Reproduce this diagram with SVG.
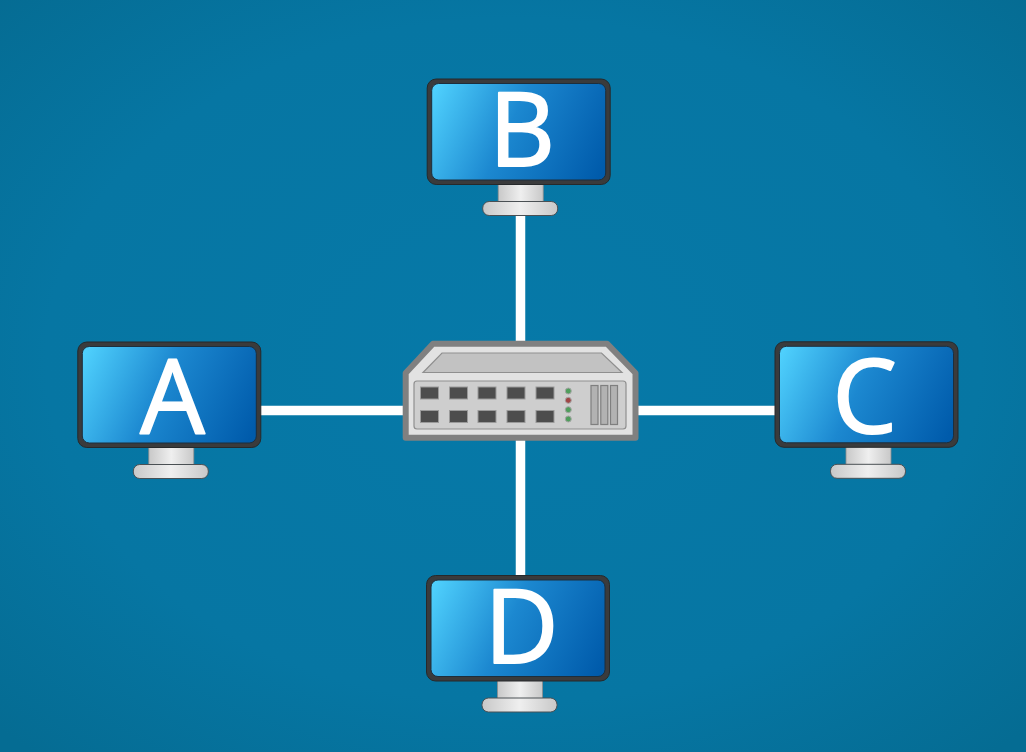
<svg xmlns="http://www.w3.org/2000/svg" width="1026" height="752" viewBox="0 0 1026 752">
<style>
.lbl{font-family:"Open Sans","Noto Sans","Liberation Sans",sans-serif;font-size:102px;fill:#fff;stroke:#fff;stroke-width:2px;stroke-linejoin:round;text-anchor:middle}
.link{stroke:#fff;stroke-width:9.500px;fill:none}
.port{fill:#4d4d4d;stroke:#9a9a9a;stroke-width:1px}
.led{stroke:#a5a5a5;stroke-width:1px}
.slot{fill:#b2b2b2;stroke:#7f7f7f;stroke-width:1.200px}
</style>
<defs>
<radialGradient id="bg" cx="50%" cy="48%" r="70%">
<stop offset="0" stop-color="#0679a8"/><stop offset="0.65" stop-color="#0676a3"/><stop offset="1" stop-color="#056c93"/>
</radialGradient>
<linearGradient id="scr" gradientUnits="userSpaceOnUse" x1="8" y1="12" x2="176" y2="90">
<stop offset="0" stop-color="#4ecffc"/><stop offset="0.45" stop-color="#1c88d0"/><stop offset="1" stop-color="#005bab"/>
</linearGradient>
<linearGradient id="st" x1="0" y1="0" x2="1" y2="0">
<stop offset="0" stop-color="#c8c8c8"/><stop offset="0.5" stop-color="#efefef"/><stop offset="1" stop-color="#c8c8c8"/>
</linearGradient>
<filter id="soft" x="-5%" y="-5%" width="110%" height="110%"><feGaussianBlur stdDeviation="0.6"/></filter>
<g id="mon">
<rect x="71.500" y="105" width="45" height="19" fill="url(#st)" stroke="#8e8e8e" stroke-width="0.800"/>
<rect x="56" y="123" width="75" height="14" rx="6.500" fill="url(#st)" stroke="#4a5054" stroke-width="1"/>
<rect x="0.500" y="0.500" width="183" height="105.500" rx="9" fill="#3a3b3c" stroke="#26292b" stroke-width="1"/>
<rect x="5" y="5" width="174" height="96.500" rx="7" fill="url(#scr)" stroke="#1d2e3c" stroke-width="1"/>
</g>
</defs>
<rect id="background" width="1026" height="752" fill="url(#bg)"/>
<g id="connectors">
<line class="link" x1="520.500" y1="215" x2="520.500" y2="345"/>
<line class="link" x1="520.500" y1="438" x2="520.500" y2="577"/>
<line class="link" x1="260" y1="410.500" x2="405" y2="410.500"/>
<line class="link" x1="636" y1="410.500" x2="776" y2="410.500"/>
</g>
<g id="node-a"><use href="#mon" x="77.300" y="341.500"/><text class="lbl" x="172.500" y="433">A</text></g>
<g id="node-b"><use href="#mon" x="426.700" y="78.500"/><text class="lbl" x="522" y="166">B</text></g>
<g id="node-c"><use href="#mon" x="774.500" y="341.300"/><text class="lbl" x="864.500" y="433">C</text></g>
<g id="node-d"><use href="#mon" x="426" y="575"/><text class="lbl" x="521.500" y="663">D</text></g>
<g id="switch" filter="url(#soft)">
<path d="M405.700 373 L433 343.700 H607 L635.500 373 V437.700 H405.700 Z" fill="#e2e2e2" stroke="#808080" stroke-width="6" stroke-linejoin="round"/>
<path d="M423 372.500 L442 353 H601.500 L622 372.500 Z" fill="#c2c2c2" stroke="#8f8f8f" stroke-width="1.200"/>
<rect x="414" y="381" width="212" height="48" rx="3" fill="#cecece" stroke="#8f8f8f" stroke-width="1.200"/>
<g id="ports">
<rect class="port" x="420.500" y="387" width="18" height="12"/><rect class="port" x="449.500" y="387" width="18" height="12"/><rect class="port" x="478" y="387" width="18" height="12"/><rect class="port" x="507" y="387" width="18" height="12"/><rect class="port" x="536" y="387" width="18" height="12"/>
<rect class="port" x="420.500" y="410.500" width="18" height="12"/><rect class="port" x="449.500" y="410.500" width="18" height="12"/><rect class="port" x="478" y="410.500" width="18" height="12"/><rect class="port" x="507" y="410.500" width="18" height="12"/><rect class="port" x="536" y="410.500" width="18" height="12"/>
</g>
<circle class="led" cx="568.300" cy="391" r="3" fill="#4f9e5c"/>
<circle class="led" cx="568.300" cy="400.300" r="3" fill="#a04444"/>
<circle class="led" cx="568.300" cy="409.700" r="3" fill="#4f9e5c"/>
<circle class="led" cx="568.300" cy="419" r="3" fill="#4f9e5c"/>
<rect class="slot" x="591" y="385.500" width="7" height="39"/>
<rect class="slot" x="600.800" y="385.500" width="7" height="39"/>
<rect class="slot" x="610.500" y="385.500" width="7" height="39"/>
</g>
</svg>
